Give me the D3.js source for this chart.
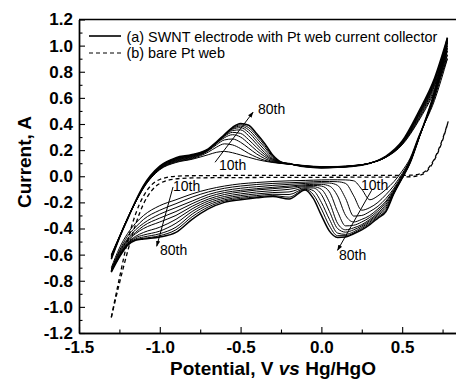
<!DOCTYPE html>
<html><head><meta charset="utf-8">
<script src="https://cdn.jsdelivr.net/npm/d3@7"></script>
<style>
html,body{margin:0;padding:0;background:#fff;}
svg{display:block;font-family:"Liberation Sans",Arial,sans-serif;}
</style></head>
<body><svg id="c" width="456" height="381"></svg>
<script>
// ---------- data ----------
const cycles = [10,15,20,25,30,40,50,60,70,80];
const anodicPotential = [-1.3,-1.25,-1.2,-1.15,-1.1,-1.0,-0.9,-0.8,-0.7,-0.65,-0.6,-0.55,-0.5,-0.45,-0.4,-0.35,-0.3,-0.25,-0.2,-0.1,0.0,0.1,0.2,0.3,0.4,0.5,0.6,0.7,0.78];
const an10 = [-0.600,-0.460,-0.320,-0.200,-0.090,0.050,0.105, 0.130,0.165,0.183,0.190,0.180,0.163,0.145,0.128,0.115,0.105,0.098,0.092, 0.082,0.074,0.075,0.083,0.100,0.145,0.240,0.420,0.650,0.900];
const an15 = [-0.605,-0.462,-0.322,-0.198,-0.087,0.053,0.110, 0.135,0.185,0.222,0.248,0.240,0.212,0.175,0.145,0.122,0.108,0.099,0.093, 0.080,0.072,0.074,0.082,0.100,0.146,0.245,0.430,0.670,0.930];
const an20 = [-0.610,-0.465,-0.323,-0.197,-0.085,0.056,0.115, 0.140,0.195,0.240,0.278,0.285,0.260,0.215,0.170,0.135,0.112,0.100,0.093, 0.079,0.071,0.073,0.081,0.100,0.147,0.250,0.440,0.690,0.960];
const an25 = [-0.612,-0.466,-0.324,-0.196,-0.083,0.059,0.120, 0.145,0.200,0.250,0.295,0.318,0.300,0.250,0.195,0.150,0.118,0.102,0.094, 0.078,0.070,0.072,0.080,0.100,0.148,0.252,0.450,0.700,0.980];
const an30 = [-0.615,-0.467,-0.325,-0.195,-0.081,0.062,0.124, 0.150,0.200,0.252,0.305,0.336,0.328,0.280,0.220,0.165,0.124,0.104,0.094, 0.077,0.069,0.071,0.080,0.100,0.149,0.255,0.460,0.710,1.000];
const an40 = [-0.618,-0.468,-0.326,-0.194,-0.079,0.066,0.128, 0.153,0.203,0.255,0.310,0.350,0.355,0.310,0.245,0.180,0.130,0.106,0.095, 0.076,0.068,0.070,0.079,0.100,0.150,0.258,0.465,0.720,1.020];
const an50 = [-0.620,-0.469,-0.327,-0.193,-0.077,0.069,0.132, 0.157,0.205,0.257,0.313,0.360,0.372,0.335,0.268,0.200,0.137,0.107,0.095, 0.075,0.067,0.070,0.079,0.100,0.151,0.260,0.470,0.730,1.030];
const an60 = [-0.625,-0.470,-0.328,-0.192,-0.075,0.072,0.135, 0.160,0.207,0.258,0.315,0.365,0.384,0.355,0.290,0.220,0.145,0.108,0.096, 0.074,0.066,0.069,0.078,0.100,0.152,0.263,0.475,0.735,1.040];
const an70 = [-0.630,-0.471,-0.329,-0.191,-0.073,0.075,0.138, 0.163,0.208,0.260,0.318,0.370,0.394,0.372,0.310,0.235,0.152,0.109,0.096, 0.073,0.065,0.068,0.078,0.100,0.153,0.266,0.480,0.740,1.050];
const an80 = [-0.635,-0.472,-0.330,-0.190,-0.070,0.078,0.142, 0.166,0.210,0.262,0.320,0.375,0.404,0.390,0.325,0.250,0.160,0.110,0.097, 0.072,0.064,0.068,0.077,0.100,0.155,0.270,0.490,0.750,1.060];

const cathodicPotential = [0.78,0.7,0.6,0.55,0.5,0.45,0.4,0.35,0.3,0.25,0.2,0.15,0.1,0.05,0.0,-0.05,-0.1,-0.2,-0.3,-0.4,-0.5,-0.6,-0.7,-0.8,-0.9,-1.0,-1.1,-1.15,-1.2,-1.25,-1.3];
const ca10 = [0.90,0.58,0.300,0.140,0.040,-0.040,-0.100,-0.150,-0.180,-0.100,-0.035,-0.028,-0.027,-0.027,-0.028,-0.030,-0.032,-0.035,-0.040,-0.048,-0.058,-0.075,-0.100,-0.135,-0.180,-0.225,-0.300,-0.360,-0.440,-0.550,-0.700];
const ca15 = [0.93,0.60,0.290,0.130,0.020,-0.070,-0.140,-0.200,-0.240,-0.260,-0.150,-0.055,-0.042,-0.040,-0.040,-0.042,-0.045,-0.050,-0.055,-0.063,-0.075,-0.092,-0.120,-0.160,-0.210,-0.260,-0.330,-0.390,-0.460,-0.570,-0.710];
const ca20 = [0.96,0.61,0.285,0.125,0.010,-0.090,-0.170,-0.230,-0.270,-0.300,-0.305,-0.170,-0.070,-0.052,-0.050,-0.052,-0.055,-0.062,-0.070,-0.080,-0.092,-0.110,-0.140,-0.190,-0.240,-0.290,-0.360,-0.410,-0.480,-0.580,-0.720];
const ca25 = [0.98,0.62,0.280,0.120,0.000,-0.100,-0.190,-0.250,-0.300,-0.330,-0.350,-0.300,-0.150,-0.075,-0.062,-0.062,-0.065,-0.075,-0.085,-0.095,-0.108,-0.125,-0.158,-0.210,-0.270,-0.320,-0.380,-0.430,-0.490,-0.590,-0.720];
const ca30 = [1.00,0.625,0.280,0.115,-0.005,-0.110,-0.200,-0.265,-0.315,-0.350,-0.375,-0.380,-0.270,-0.120,-0.075,-0.070,-0.072,-0.085,-0.095,-0.105,-0.120,-0.140,-0.175,-0.230,-0.300,-0.350,-0.400,-0.440,-0.500,-0.600,-0.720];
const ca40 = [1.02,0.63,0.280,0.112,-0.008,-0.115,-0.215,-0.280,-0.330,-0.370,-0.395,-0.410,-0.360,-0.200,-0.100,-0.080,-0.080,-0.100,-0.110,-0.120,-0.135,-0.155,-0.190,-0.250,-0.330,-0.390,-0.430,-0.460,-0.510,-0.610,-0.725];
const ca50 = [1.03,0.635,0.280,0.110,-0.010,-0.120,-0.230,-0.290,-0.340,-0.380,-0.410,-0.428,-0.400,-0.270,-0.140,-0.090,-0.088,-0.120,-0.125,-0.135,-0.148,-0.168,-0.205,-0.270,-0.360,-0.420,-0.450,-0.470,-0.515,-0.610,-0.728];
const ca60 = [1.04,0.64,0.280,0.108,-0.012,-0.125,-0.245,-0.300,-0.350,-0.390,-0.425,-0.445,-0.435,-0.330,-0.200,-0.110,-0.095,-0.140,-0.138,-0.148,-0.160,-0.180,-0.220,-0.290,-0.390,-0.440,-0.465,-0.480,-0.520,-0.615,-0.730];
const ca70 = [1.05,0.645,0.280,0.106,-0.014,-0.128,-0.260,-0.310,-0.360,-0.400,-0.435,-0.455,-0.455,-0.380,-0.250,-0.140,-0.100,-0.160,-0.148,-0.158,-0.170,-0.190,-0.235,-0.310,-0.410,-0.455,-0.475,-0.485,-0.525,-0.615,-0.730];
const ca80 = [1.06,0.65,0.280,0.105,-0.015,-0.130,-0.270,-0.320,-0.370,-0.410,-0.440,-0.465,-0.468,-0.420,-0.300,-0.170,-0.105,-0.175,-0.155,-0.165,-0.180,-0.200,-0.250,-0.330,-0.430,-0.465,-0.480,-0.490,-0.530,-0.620,-0.735];

const barePotentialFwd = [-1.3,-1.25,-1.2,-1.15,-1.1,-1.05,-1.0,-0.9,-0.8,-0.5,0.0,0.5,0.55,0.6,0.65,0.7,0.75,0.785];
const bareCurrentFwd   = [-1.08,-0.78,-0.50,-0.29,-0.15,-0.065,-0.025,0.0,0.004,0.006,0.006,0.006,0.008,0.015,0.045,0.135,0.285,0.420];
const barePotentialRev = [0.785,0.75,0.7,0.65,0.6,0.55,0.5,0.0,-0.5,-0.8,-0.9,-1.0,-1.05,-1.1,-1.15,-1.2,-1.25,-1.3];
const bareCurrentRev   = [0.420,0.275,0.125,0.035,0.005,-0.004,-0.006,-0.008,-0.010,-0.013,-0.020,-0.055,-0.110,-0.210,-0.370,-0.580,-0.820,-1.080];

const xMajorTicks = [-1.5,-1.0,-0.5,0.0,0.5];
const xMinorTicks = [-1.25,-0.75,-0.25,0.25,0.75];
const yMajorTicks = [-1.2,-1.0,-0.8,-0.6,-0.4,-0.2,0.0,0.2,0.4,0.6,0.8,1.0,1.2];
const yMinorTicks = [-1.1,-0.9,-0.7,-0.5,-0.3,-0.1,0.1,0.3,0.5,0.7,0.9,1.1];

const legendLabels = ["(a) SWNT electrode with Pt web current collector","(b) bare Pt web"];
// annotation arrows: start / end in data units, with labels
const arrowStart = [[-0.658,0.107],[-0.918,-0.082],[0.311,-0.107]];
const arrowEnd   = [[-0.423,0.490],[-1.019,-0.536],[0.100,-0.567]];
const labelTen   = [[-0.634,0.046],[-0.918,-0.115],[0.245,-0.107]];
const labelEighty= [[-0.392,0.475],[-0.999,-0.605],[0.109,-0.643]];

// ---------- chart ----------
const svg = d3.select("#c");
const x = d3.scaleLinear().domain([-1.5, 0.8331]).range([79, 456]);
const y = d3.scaleLinear().domain([-1.2, 1.2]).range([333, 19.5]);

const anodic = [an10,an15,an20,an25,an30,an40,an50,an60,an70,an80];
const cathodic = [ca10,ca15,ca20,ca25,ca30,ca40,ca50,ca60,ca70,ca80];

const line = d3.line().x(d=>x(d[0])).y(d=>y(d[1])).curve(d3.curveMonotoneX);
const g = svg.append("g");

// bare Pt (dashed)
[[barePotentialFwd,bareCurrentFwd],[barePotentialRev,bareCurrentRev]].forEach(([px,cy])=>{
  const pts = px.map((v,i)=>[v,cy[i]]).sort((a,b)=>a[0]-b[0]);
  g.append("path").attr("d", line(pts)).attr("fill","none").attr("stroke","#000")
   .attr("stroke-width",1.3).attr("stroke-dasharray","4,3");
});

cycles.forEach((c,k)=>{
  const a = anodicPotential.map((v,i)=>[v,anodic[k][i]]);
  const cc = cathodicPotential.map((v,i)=>[v,cathodic[k][i]]).reverse();
  const w = (c===80) ? 1.5 : 1;
  g.append("path").attr("d", line(a)).attr("fill","none").attr("stroke","#000").attr("stroke-width",w);
  g.append("path").attr("d", line(cc)).attr("fill","none").attr("stroke","#000").attr("stroke-width",w);
});

// axes
const fmt = d => d.toFixed(1);
svg.append("g").attr("transform",`translate(0,${y(-1.2)})`)
  .call(d3.axisBottom(x).tickValues(xMajorTicks).tickFormat(fmt).tickSize(-6).tickSizeOuter(0).tickPadding(8));
svg.append("g").attr("transform",`translate(0,${y(-1.2)})`)
  .call(d3.axisBottom(x).tickValues(xMinorTicks).tickFormat("").tickSize(-3.5).tickSizeOuter(0));
svg.append("g").attr("transform",`translate(${x(-1.5)},0)`)
  .call(d3.axisLeft(y).tickValues(yMajorTicks).tickFormat(fmt).tickSize(-6).tickSizeOuter(0).tickPadding(6));
svg.append("g").attr("transform",`translate(${x(-1.5)},0)`)
  .call(d3.axisLeft(y).tickValues(yMinorTicks).tickFormat("").tickSize(-3.5).tickSizeOuter(0));
svg.selectAll(".domain").attr("stroke-width",1.4);
svg.selectAll(".tick line").attr("stroke-width",1.1);
svg.selectAll(".tick text").attr("font-family","'Liberation Sans',Arial,sans-serif")
  .attr("font-size",17).attr("font-weight","bold").attr("fill","#000");
// top frame
svg.append("line").attr("x1",x(-1.5)).attr("x2",456).attr("y1",y(1.2)).attr("y2",y(1.2))
  .attr("stroke","#000").attr("stroke-width",1.4);

// axis titles
const xt = svg.append("text").attr("x",273).attr("y",375).attr("text-anchor","middle")
  .attr("font-size",19).attr("font-weight","bold");
xt.append("tspan").text("Potential, V ");
xt.append("tspan").attr("font-style","italic").text("vs");
xt.append("tspan").text(" Hg/HgO");
svg.append("text").attr("transform","translate(31,162) rotate(-90)").attr("text-anchor","middle")
  .attr("font-size",19).attr("font-weight","bold").text("Current, A");

// legend
svg.append("line").attr("x1",89).attr("x2",121).attr("y1",36).attr("y2",36).attr("stroke","#000").attr("stroke-width",1.6);
svg.append("line").attr("x1",89).attr("x2",121).attr("y1",53).attr("y2",53).attr("stroke","#000").attr("stroke-width",1.2).attr("stroke-dasharray","4,3");
svg.append("text").attr("x",126.5).attr("y",41.5).attr("font-size",14.4).text(legendLabels[0]);
svg.append("text").attr("x",126.5).attr("y",58).attr("font-size",14.4).text(legendLabels[1]);

// annotations
svg.append("defs").append("marker").attr("id","ah").attr("viewBox","0 0 10 10").attr("refX",9).attr("refY",5)
  .attr("markerWidth",6).attr("markerHeight",6).attr("orient","auto")
  .append("path").attr("d","M0,1.5 L10,5 L0,8.5 Z").attr("fill","#000");
arrowStart.forEach((s,i)=>{
  const e = arrowEnd[i];
  svg.append("line").attr("x1",x(s[0])).attr("y1",y(s[1])).attr("x2",x(e[0])).attr("y2",y(e[1]))
    .attr("stroke","#000").attr("stroke-width",1).attr("marker-end","url(#ah)");
  svg.append("text").attr("x",x(labelTen[i][0])).attr("y",y(labelTen[i][1])).attr("font-size",14).text("10th");
  svg.append("text").attr("x",x(labelEighty[i][0])).attr("y",y(labelEighty[i][1])).attr("font-size",14).text("80th");
});
</script></body></html>
